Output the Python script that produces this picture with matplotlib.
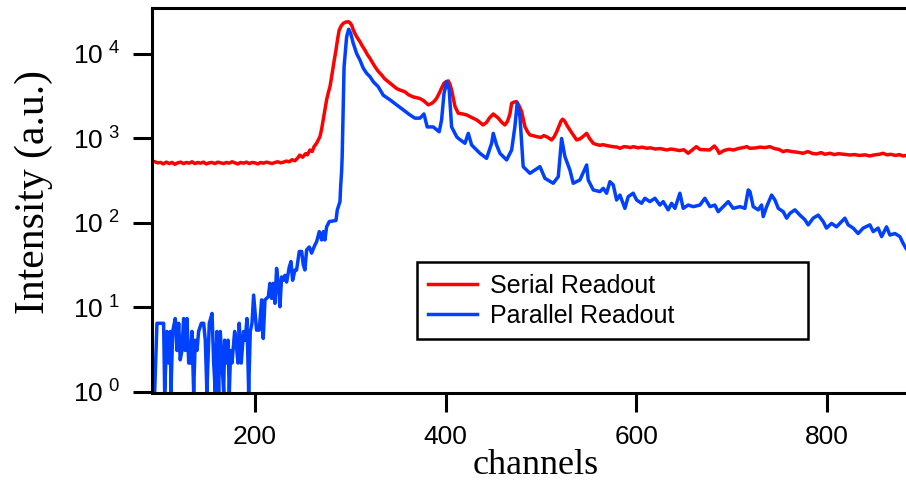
import numpy as np
import matplotlib
matplotlib.use('Agg')
import matplotlib.pyplot as plt
from matplotlib.ticker import FixedLocator, NullLocator, FuncFormatter

# serial readout spectrum (channel, counts)
red_ch = [95, 98, 101, 104, 107, 110, 113, 116, 119, 122, 125, 128, 131, 134, 137, 140, 143, 146, 149,
          152, 155, 158, 161, 164, 167, 170, 173, 176, 179, 182, 185, 188, 191, 194, 197, 200, 203, 206,
          209, 212, 215, 218, 221, 224, 227, 230, 233, 236, 239, 242, 245, 247, 250, 253, 255, 257.7, 260,
          262, 264.7, 268.2, 270, 271.6, 273.5, 275.2, 277, 278.7, 280, 281.5, 283, 285, 286.7, 288.4,
          290.5, 292.6, 295, 297.9, 299.5, 301.4, 303, 304.9, 307, 310.1, 312.5, 315.4, 318, 320.6, 323,
          325.9, 329, 332.9, 336, 339.8, 344, 348.6, 352, 357.3, 361, 366.1, 369, 373.1, 377, 381.8, 385.4,
          388, 390.6, 394.1, 396, 398.3, 400.5, 402.8, 404.5, 406.3, 408, 409.8, 413.3, 418, 422.1, 427,
          432.6, 436, 439.2, 443, 446, 450, 452.5, 455.3, 459, 462.2, 465, 467.5, 469.3, 472, 474.5, 477,
          479.8, 481.5, 483.2, 486, 488.5, 492, 495.5, 500, 503, 506, 509, 511.2, 514, 516.5, 519, 521,
          522.8, 525, 527.5, 530.4, 534, 537.5, 541, 544, 548, 551, 554.9, 558, 562, 565, 570, 575.5, 580,
          583, 587, 590, 594, 597, 602, 606, 611, 615, 620, 625, 632, 636, 640, 645, 650, 654.5, 658, 663,
          667, 672, 677, 682, 685, 687, 692, 697, 702, 707, 712, 716, 719, 724, 730, 735, 740, 745, 750,
          754, 758, 763, 768, 775, 780, 785, 789, 794, 798, 803, 808, 812, 818, 824, 829, 834, 840, 845,
          850, 855, 859, 863, 867, 872, 876, 880, 883]
red_val = [530, 515, 520, 500, 525, 505, 520, 495, 515, 525, 505, 520, 510, 530, 505, 520, 510, 525, 500,
           515, 520, 505, 525, 515, 505, 520, 510, 530, 515, 500, 520, 510, 525, 505, 520, 515, 500, 520,
           510, 525, 515, 505, 520, 530, 515, 525, 540, 530, 560, 545, 590, 635, 600, 660, 640, 730, 700,
           800, 880, 1050, 1300, 1660, 2200, 2870, 3500, 4100, 5000, 6450, 8200, 11100, 15000, 19200,
           21500, 23000, 23800, 24100, 23500, 22000, 19500, 17500, 15800, 14000, 12500, 11100, 9800, 8900,
           8000, 7080, 6300, 5640, 5100, 4700, 4300, 3900, 3750, 3570, 3300, 3100, 3050, 2970, 2800, 2500,
           2600, 2750, 2990, 3570, 4000, 4500, 4700, 4800, 4400, 3750, 3000, 2400, 1990, 1950, 1900, 1780,
           1660, 1550, 1445, 1550, 1750, 1950, 1850, 1740, 1550, 1445, 1600, 1950, 2610, 2700, 2730, 2450,
           2075, 1700, 1380, 1200, 1100, 1080, 1050, 1030, 1080, 1050, 1000, 960, 1050, 1200, 1400, 1600,
           1690, 1600, 1420, 1260, 1100, 960, 990, 1050, 1150, 1000, 877, 850, 830, 845, 820, 800, 790,
           766, 800, 795, 780, 800, 775, 790, 766, 775, 750, 760, 731, 750, 740, 720, 735, 668, 720, 800,
           740, 735, 731, 815, 740, 668, 720, 745, 731, 760, 780, 800, 766, 770, 790, 780, 800, 760, 740,
           698, 720, 700, 690, 668, 700, 665, 656, 680, 650, 668, 645, 660, 650, 638, 645, 630, 640, 621,
           640, 650, 668, 640, 650, 630, 645, 621, 630]

# parallel readout spectrum (channel, counts)
blue_ch = [94.8, 97.2, 100.7, 104.2, 105.3, 107.7, 109.5, 111.2, 111.9, 113.7, 116.4, 118.2, 120, 121.6,
           123.4, 125.2, 126.9, 128.7, 130.5, 132.2, 133.9, 135.7, 137.4, 139.2, 140.9, 143.7, 146.2,
           147.9, 149.6, 152.1, 155, 156.7, 158.4, 160.1, 161.9, 163.6, 165.4, 167.2, 168.2, 169.6, 171.7,
           173.1, 174.5, 175.9, 178.7, 180.1, 182.2, 183.5, 185.6, 188.1, 189.8, 191.6, 193.4, 195.1,
           196.9, 198.6, 201.7, 204.5, 207, 208.7, 210.5, 214, 215.7, 217.5, 219.2, 221, 222.7, 224.5,
           226.2, 228, 229.7, 231.5, 233.2, 236, 237.8, 239.5, 242, 243.7, 246.5, 249, 250.7, 252.4, 254.2,
           257, 259.4, 262.9, 264.7, 267.5, 270, 271.7, 273.4, 275.2, 278, 285, 286.4, 289.2, 289.9, 291,
           291.5, 292.5, 293.5, 296.2, 298.3, 300.4, 303.1, 306.7, 310.1, 313.6, 317.2, 320.6, 324.1,
           329.3, 334.6, 341.6, 348.6, 355.6, 362.6, 367.8, 373.1, 377.3, 380.7, 387, 393.3, 395.8, 398.3,
           401.1, 403.8, 406.3, 411.6, 413.3, 420.3, 423.8, 427.3, 436, 443, 448.3, 450, 453.5, 457, 464,
           469.3, 472.7, 475.1, 478, 481.4, 488.5, 499, 504.2, 512.9, 518.2, 521.7, 525.2, 530.4, 533.9,
           540.9, 548, 549.6, 554.9, 561.9, 565.4, 568.9, 572.4, 575.9, 579.4, 582.9, 588.1, 591.6, 596.8,
           600.4, 605.6, 609.1, 614.3, 619.6, 624.8, 628.3, 633.5, 637.1, 640.6, 645.8, 649.3, 654.5,
           659.8, 666.8, 672, 677.3, 682.5, 686, 691.2, 696.5, 701.7, 708.8, 714, 717.5, 719.3, 722.7, 728,
           731.5, 733.2, 736.8, 742, 745.5, 749, 754.2, 757.8, 761.2, 766.5, 771.7, 777, 780.4, 785.6,
           790.9, 796.1, 799.6, 804.9, 810.1, 818.9, 822.3, 827.6, 832.8, 838.1, 845.1, 848.6, 853.8,
           857.4, 862.6, 866.1, 871.4, 876.6, 880.1, 883]
blue_val = [1, 6.5, 6.5, 6.5, 1, 5.2, 2.2, 5.2, 1, 5.2, 7.4, 3.1, 6.5, 2.4,
            3.1, 7.4, 3.1, 7.4, 2.2, 2.2, 5.2, 1, 4.1, 3.1, 5.2, 6.5, 6.5,
            4.1, 1, 6.5, 8.5, 2.2, 1, 5.2, 1, 5.2, 2.2, 1, 4.1, 2.2, 4.1,
            1, 3.1, 2.2, 5.2, 4.1, 2.2, 6.5, 2.2, 5.2, 4.1, 7.4, 1, 5.2,
            6.5, 14, 5.4, 5.4, 12.3, 4.3, 12.3, 13.4, 19.3, 12.8, 19.3, 11.2, 29, 19.3,
            10.2, 23, 21, 24, 20, 30, 35, 21, 27.8, 27.8, 46, 46, 32, 27.8, 48,
            52, 44, 55, 60, 79, 63, 79, 63, 90, 104, 107, 143, 179, 269, 424,
            610, 2000, 7080, 16000, 19600, 17600, 13400, 10100, 8500, 6800, 5900, 5400, 4700,
            4100, 3250, 2870, 2500, 2180, 1900, 1740, 1740, 1950, 1370, 1370, 1200, 1660, 3400,
            4700, 3750, 1370, 1050, 1005, 877, 1150, 838, 668, 582, 877, 1150, 838, 668, 557,
            731, 1380, 2620, 1810, 464, 387, 464, 338, 295, 353, 1000, 609, 424, 295,
            323, 486, 323, 246, 235, 257, 225, 308, 282, 187, 214, 149, 205, 225,
            187, 171, 196, 179, 196, 163, 179, 143, 171, 149, 225, 149, 163,
            156, 163, 196, 156, 163, 136, 156, 179, 149, 156, 149, 246, 235, 156, 143,
            163, 119, 156, 214, 187, 149, 136, 114, 130, 143, 124, 109, 95, 114,
            124, 104, 87, 99, 90, 114, 95, 87, 75, 87, 95, 79, 87,
            69, 90, 72, 75, 69, 57, 50]

plt.rcParams['font.family'] = 'Liberation Sans'
plt.rcParams['mathtext.fontset'] = 'custom'
plt.rcParams['mathtext.rm'] = 'Liberation Sans'

fig = plt.figure(figsize=(9.06, 4.83), dpi=100)
ax = fig.add_axes([152 / 906, 1 - 393 / 483, 754 / 906, 385 / 483])

ax.plot(red_ch, red_val, color='#ff0000', lw=2.5, label='Serial Readout')
ax.plot(blue_ch, blue_val, color='#0040ff', lw=2.5, label='Parallel Readout')

ax.set_yscale('log')
ax.set_xlim(92, 883)
ax.set_ylim(10 ** -0.012, 10 ** 4.544)

ax.xaxis.set_major_locator(FixedLocator([200, 400, 600, 800]))
ax.xaxis.set_minor_locator(NullLocator())
ax.yaxis.set_major_locator(FixedLocator([1, 10, 100, 1000, 10000]))
ax.yaxis.set_minor_locator(NullLocator())
ax.yaxis.set_major_formatter(FuncFormatter(lambda v, p: r'$\mathregular{10^{\ %d}}$' % round(np.log10(v))))

for side in ['left', 'bottom', 'top']:
    ax.spines[side].set_linewidth(2.2)
ax.spines['right'].set_visible(False)
ax.tick_params(axis='both', direction='out', length=14, width=2.2, labelsize=19)
ax.tick_params(axis='x', pad=9)
ax.tick_params(axis='y', pad=9)

ax.set_ylabel('Intensity (a.u.)', family='Liberation Serif', fontsize=30)
ax.yaxis.set_label_coords(-0.131, 0.522)
fig.text(536 / 906, 0.037, 'channels', family='Liberation Serif', fontsize=26, ha='center', va='center')

leg = ax.legend(loc='lower left', bbox_to_anchor=(0.3515, 0.14, 0.5186, 0.2), mode='expand',
                borderaxespad=0, fontsize=18, frameon=True, fancybox=False, framealpha=1,
                handlelength=1.95, handletextpad=0.5, borderpad=0.45, labelspacing=0.25)
leg.get_frame().set_edgecolor('black')
leg.get_frame().set_linewidth(1.8)

fig.savefig('out.png', dpi=100)
